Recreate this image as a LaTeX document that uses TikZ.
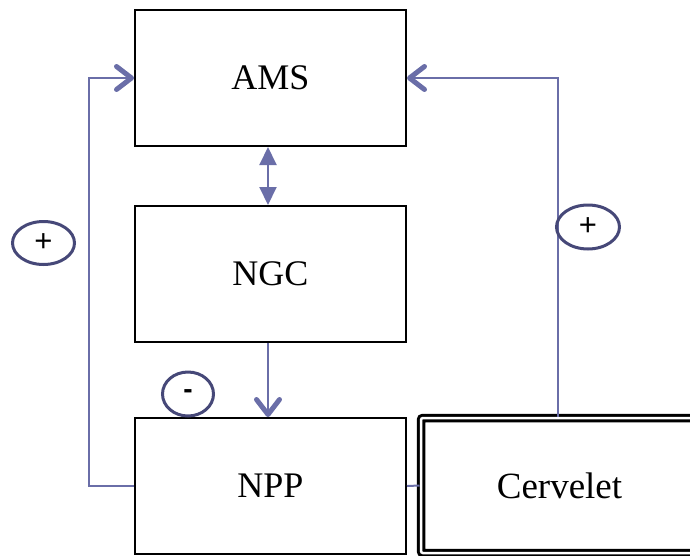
\documentclass[tikz,border=0pt]{standalone}
\usepackage{fontspec}
\setmainfont{Liberation Serif}
\newfontfamily\signfont{Liberation Sans}
\usetikzlibrary{arrows.meta,shapes.geometric}
\definecolor{linkblue}{HTML}{6A6EA8}
\definecolor{signnavy}{HTML}{464878}
\tikzset{
  block/.style={draw=black, line width=2pt, minimum width=271pt, minimum height=136pt,
    inner sep=0pt, font=\fontsize{36}{36}\selectfont},
  link/.style={draw=linkblue, line width=2pt},
  barb/.style={-{Straight Barb[length=15pt,width=23pt,line width=5pt,round]}},
  twoway/.style={{Triangle[length=18pt,width=17pt]}-{Triangle[length=18pt,width=17pt]}},
  sign/.style={ellipse, draw=signnavy, line width=3pt, inner sep=0pt,
    font=\signfont\fontsize{31}{31}\selectfont}
}
\begin{document}
\begin{tikzpicture}[x=1pt, y=-1pt]
  \useasboundingbox (0,0) rectangle (690,555);

  % main blocks
  \node[block] (ams) at (270.5,78) {AMS};
  \node[block] (ngc) at (270.5,274) {NGC};
  \node[block] (npp) at (270.5,486) {NPP};
  \node[draw=black, line width=3pt, double, double distance=2.5pt, rounded corners=2pt,
        minimum width=277pt, minimum height=135pt, inner sep=0pt,
        font=\fontsize{37}{37}\selectfont] (cerv) at (559.5,485.5) {Cervelet};

  % vertical links
  \draw[link, twoway]
    ([xshift=-2.5pt]ams.south) -- ([xshift=-2.5pt]ngc.north);
  \draw[link, barb] ([xshift=-2.5pt]ngc.south) -- ([xshift=-2.5pt]npp.north);

  % NPP to Cervelet
  \draw[link] (npp.east) -- (cerv.west);

  % feedback loops
  \draw[link, barb] (npp.west) -- ++(-45,0) |- (ams.west);
  \draw[link, barb] ([xshift=-1.5pt]cerv.north) |- (ams.east);

  % signs
  \node[sign, minimum width=62pt, minimum height=43pt] (pl) at (43.5,243) {+};
  \node[sign, minimum width=63pt, minimum height=44pt] (pr) at (588,227) {+};
  \node[sign, minimum width=51pt, minimum height=44pt, font=\signfont\bfseries\fontsize{28}{28}\selectfont] (mn) at (188,394) {-};
\end{tikzpicture}
\end{document}
